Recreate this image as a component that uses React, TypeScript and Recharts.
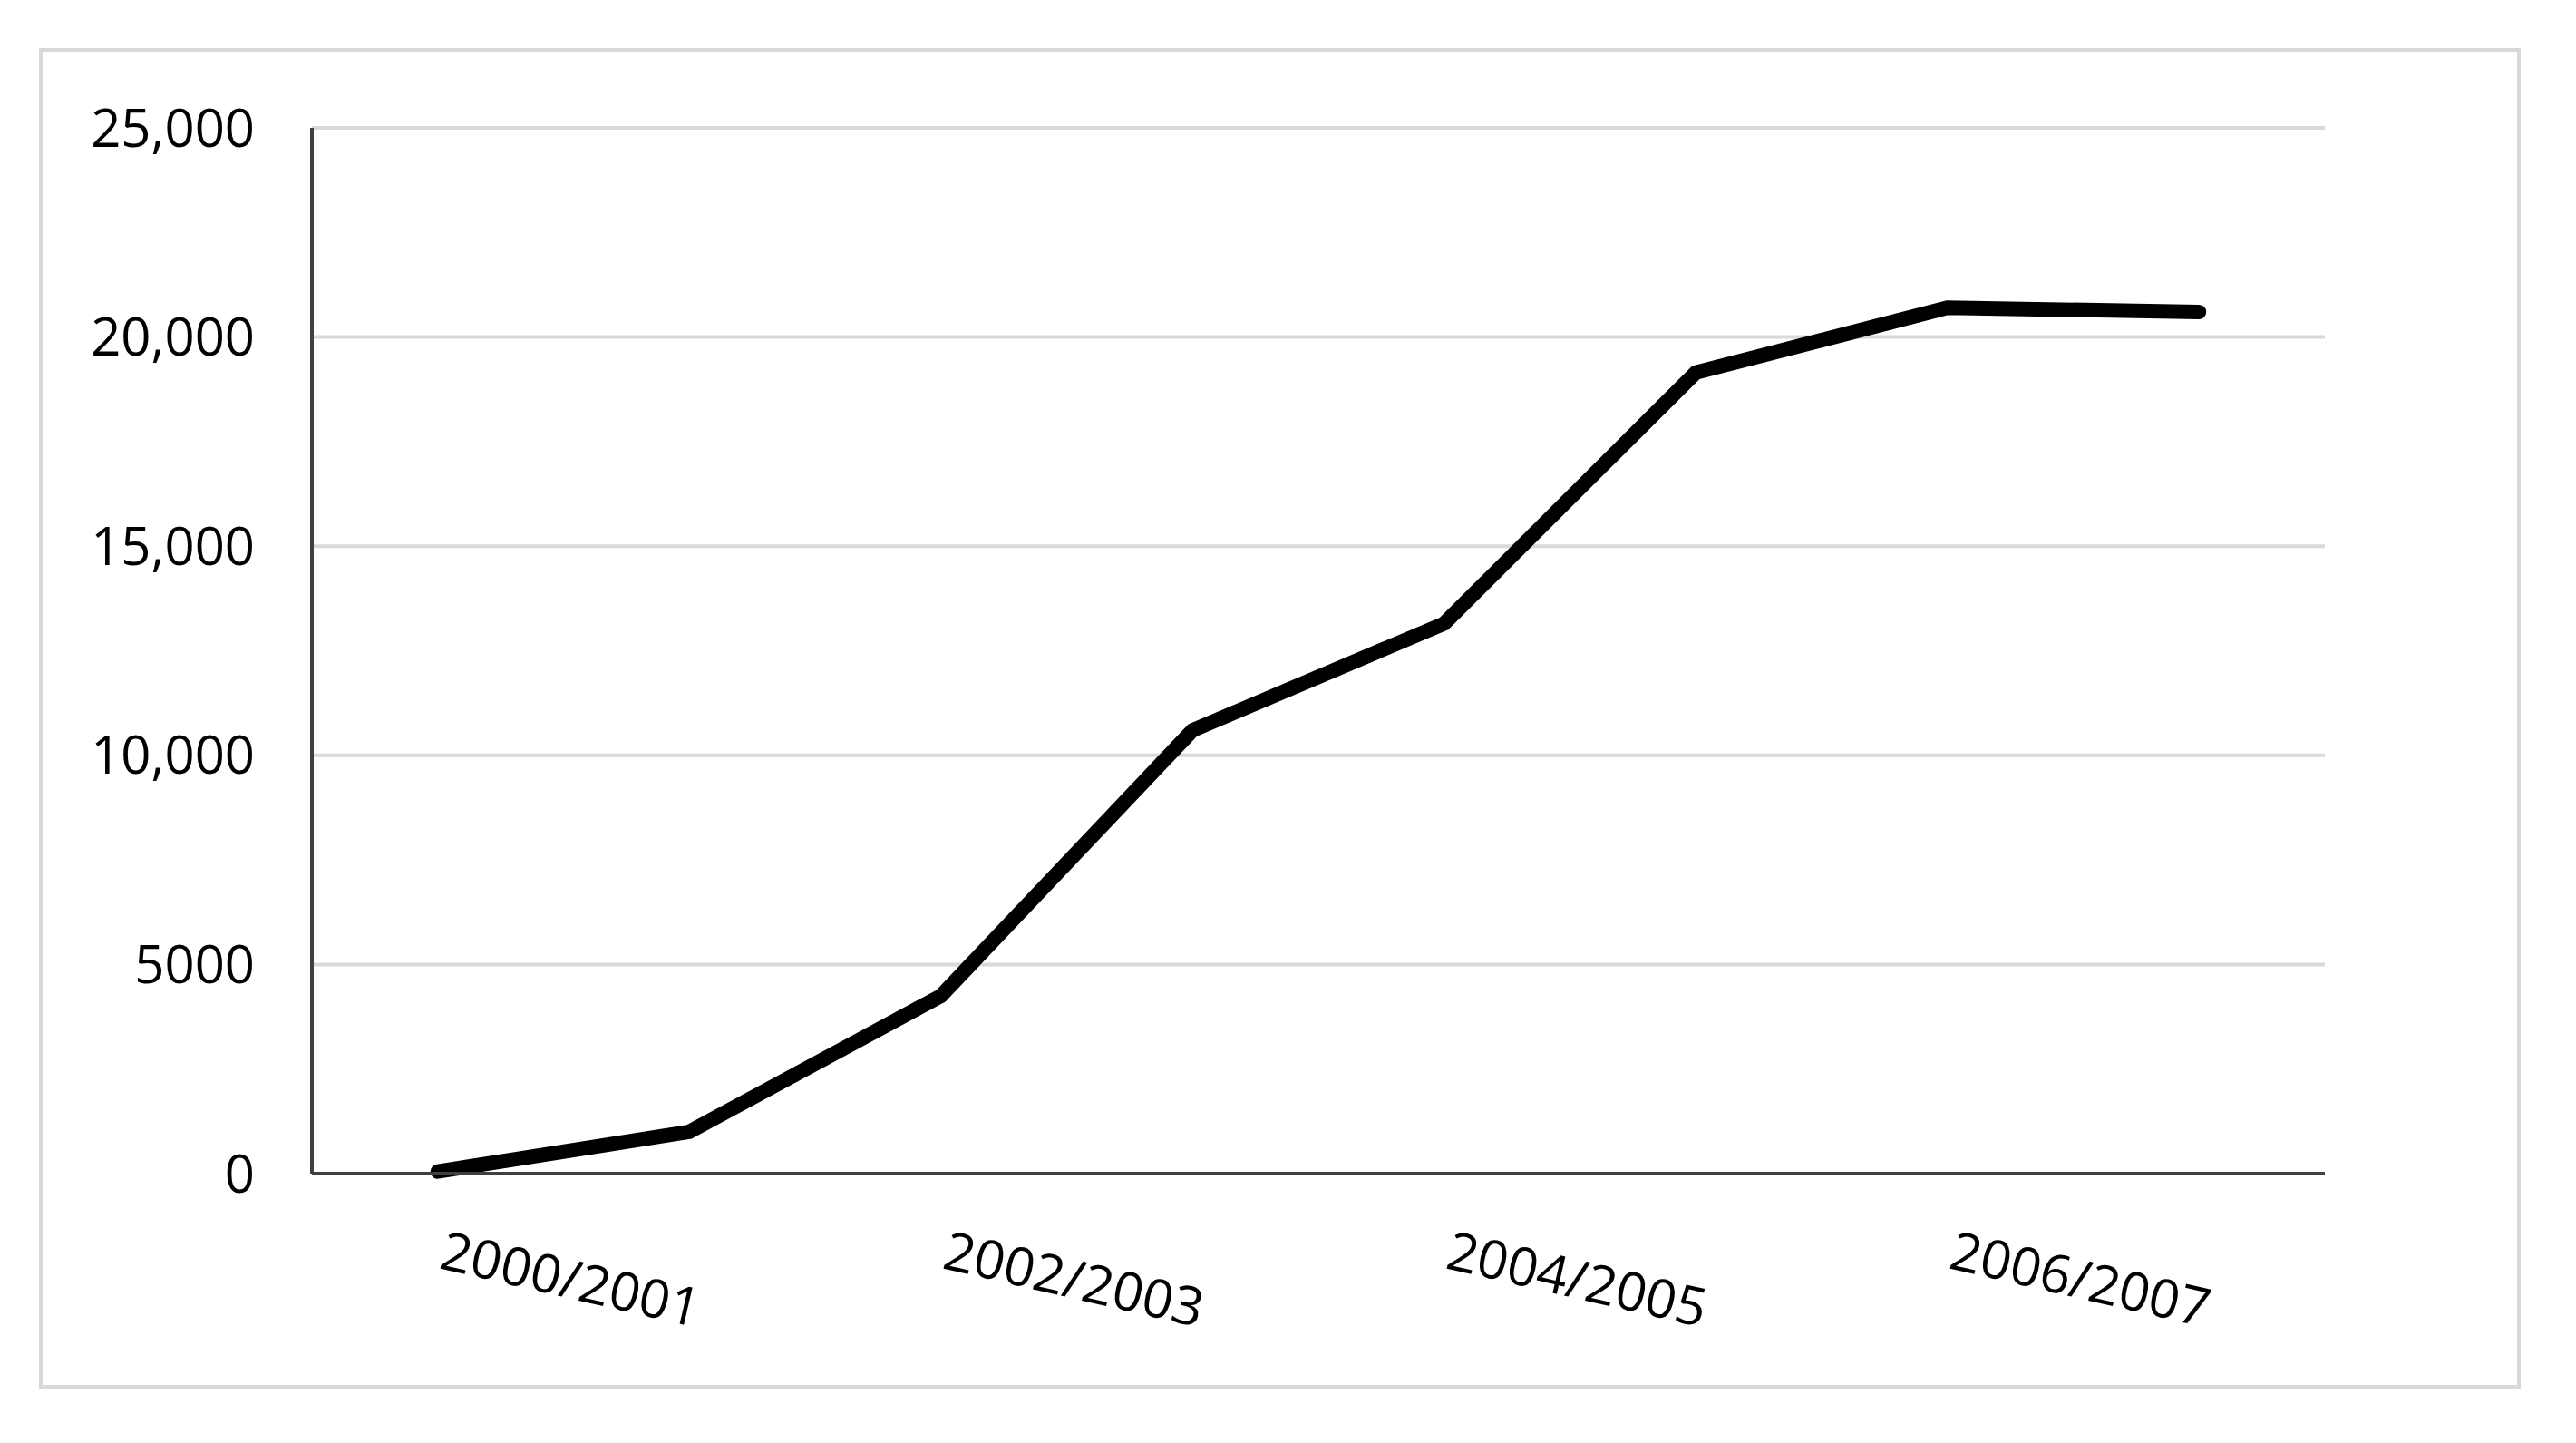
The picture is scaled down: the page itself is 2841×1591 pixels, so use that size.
import { LineChart, Line, XAxis, YAxis, CartesianGrid } from 'recharts'

const seasons = [
  '2000/2001',
  '2001/2002',
  '2002/2003',
  '2003/2004',
  '2004/2005',
  '2005/2006',
  '2006/2007',
  '2007/2008'
]
const totals = [50, 1000, 4250, 10600, 13150, 19150, 20700, 20600]
const yTicks = [0, 5000, 10000, 15000, 20000, 25000]
const yTickLabels = ['0', '5000', '10,000', '15,000', '20,000', '25,000']

const chartData = seasons.map((season, i) => ({ season, total: totals[i] }))

const W = 2841
const H = 1591
const FONT = '"Open Sans", sans-serif'

function SeasonTick({ x, y, payload }: any) {
  return (
    <text
      x={x}
      y={y + 104}
      transform={`rotate(13 ${x} ${y + 104})`}
      textAnchor="start"
      fontFamily={FONT}
      fontSize={59}
      fill="#000"
    >
      {payload.value}
    </text>
  )
}

export default function App() {
  const bandHalf = (2564 - 344) / seasons.length / 2

  return (
    <div style={{ position: 'absolute', left: 0, top: 0, width: W, height: H, background: '#fff' }}>
      <div
        style={{
          position: 'absolute',
          left: 43,
          top: 53,
          width: 2737,
          height: 1478,
          border: '4px solid #d9d9d9',
          boxSizing: 'border-box'
        }}
      />
      <div style={{ position: 'absolute', left: 0, top: 0 }}>
        <LineChart width={W} height={H} data={chartData} margin={{ top: 141, right: 277, bottom: 177, left: 0 }}>
          <CartesianGrid vertical={false} stroke="#d9d9d9" strokeWidth={4} />
          <XAxis
            dataKey="season"
            interval={1}
            padding={{ left: bandHalf, right: bandHalf }}
            axisLine={{ stroke: '#404040', strokeWidth: 4 }}
            tickLine={false}
            tickSize={0}
            tickMargin={0}
            height={120}
            tick={<SeasonTick />}
          />
          <YAxis
            domain={[0, 25000]}
            ticks={yTicks}
            interval={0}
            width={344}
            axisLine={{ stroke: '#404040', strokeWidth: 4 }}
            tickLine={false}
            tickSize={0}
            tickMargin={63}
            tickFormatter={(v: number) => yTickLabels[yTicks.indexOf(v)]}
            tick={{ fontFamily: FONT, fontSize: 58, fill: '#000' }}
          />
          <Line
            type="linear"
            dataKey="total"
            stroke="#000"
            strokeWidth={16}
            strokeLinecap="round"
            dot={false}
            activeDot={false}
            isAnimationActive={false}
          />
        </LineChart>
      </div>
    </div>
  )
}
